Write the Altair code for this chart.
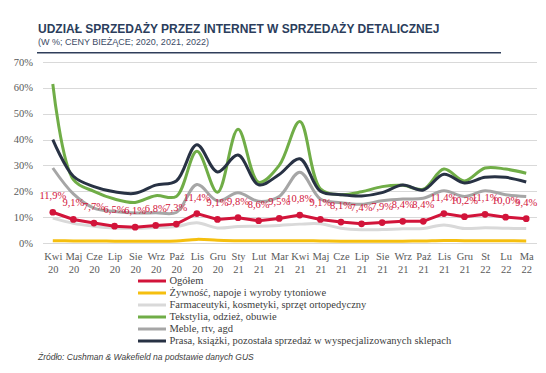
import altair as alt
import pandas as pd

months = ["Kwi 20", "Maj 20", "Cze 20", "Lip 20", "Sie 20", "Wrz 20", "Paź 20", "Lis 20",
          "Gru 20", "Sty 21", "Lut 21", "Mar 21", "Kwi 21", "Maj 21", "Cze 21", "Lip 21",
          "Sie 21", "Wrz 21", "Paź 21", "Lis 21", "Gru 21", "St 22", "Lu 22", "Ma 22"]

ogolem = [11.9, 9.1, 7.7, 6.5, 6.1, 6.8, 7.3, 11.4, 9.1, 9.8, 8.6, 9.5,
          10.8, 9.1, 8.1, 7.4, 7.9, 8.4, 8.4, 11.4, 10.2, 11.1, 10.0, 9.4]
zywnosc = [0.9, 0.8, 0.8, 0.7, 0.7, 0.7, 0.8, 1.4, 1.1, 0.9, 0.9, 0.9,
           0.9, 0.8, 0.7, 0.7, 0.7, 0.7, 0.8, 1.0, 0.9, 0.9, 0.9, 0.8]
farmaceutyki = [9.6, 7.6, 6.5, 5.8, 5.7, 6.0, 6.4, 7.8, 5.8, 6.4, 6.5, 6.8,
                7.3, 7.4, 5.7, 5.1, 5.2, 5.5, 5.6, 7.0, 5.6, 5.9, 5.7, 5.6]
tekstylia = [61.5, 24.5, 20.0, 17.0, 15.7, 18.3, 18.0, 35.5, 19.6, 44.0, 23.5, 30.0,
             47.0, 21.0, 18.7, 19.8, 21.8, 22.3, 20.8, 28.6, 24.0, 29.0, 28.6, 27.0]
meble = [29.0, 19.0, 13.5, 12.2, 11.6, 11.7, 11.8, 22.6, 16.3, 19.4, 16.1, 18.0,
         27.4, 17.0, 15.6, 15.0, 16.3, 17.0, 17.3, 20.2, 18.0, 20.2, 18.7, 18.0]
prasa = [40.0, 25.8, 21.8, 19.8, 19.2, 22.4, 24.0, 38.0, 27.5, 34.0, 22.5, 26.5,
         32.6, 20.0, 18.7, 18.2, 19.5, 22.4, 20.5, 26.6, 23.2, 25.4, 25.4, 23.6]

series_names = ["Ogółem",
                "Żywność, napoje i wyroby tytoniowe",
                "Farmaceutyki, kosmetyki, sprzęt ortopedyczny",
                "Tekstylia, odzież, obuwie",
                "Meble, rtv, agd",
                "Prasa, książki, pozostała sprzedaż w wyspecjalizowanych sklepach"]
series_values = [ogolem, zywnosc, farmaceutyki, tekstylia, meble, prasa]
colors = ["#d2143a", "#f5bf0f", "#d9d9d9", "#70ad47", "#a6a6a6", "#283244"]

title_text = "UDZIAŁ SPRZEDAŻY PRZEZ INTERNET W SPRZEDAŻY DETALICZNEJ"
subtitle_text = "(W %; CENY BIEŻĄCE; 2020, 2021, 2022)"
source_text = "Źródło: Cushman & Wakefield na podstawie danych GUS"

rows = []
for name, vals in zip(series_names, series_values):
    for m, v in zip(months, vals):
        rows.append({"month": m, "series": name, "value": v,
                     "label": f"{v:.1f}".replace(".", ",") + "%"})
df = pd.DataFrame(rows)

FONT = "Liberation Sans Narrow"
GRAY = "#595959"

x = alt.X("month:N", sort=months, title=None,
          axis=alt.Axis(labelExpr="split(datum.label, ' ')", labelAngle=0,
                        labelFont=FONT, labelFontSize=10.5, labelColor=GRAY,
                        labelLineHeight=13, labelPadding=8, domain=False, ticks=False,
                        grid=False, labelBaseline="top"))
y = alt.Y("value:Q", title=None, scale=alt.Scale(domain=[0, 70], nice=False),
          axis=alt.Axis(values=[0, 10, 20, 30, 40, 50, 60, 70],
                        labelExpr="datum.value + '%'", labelFont=FONT,
                        labelFontSize=10.5, labelColor=GRAY, labelPadding=10,
                        domain=False, ticks=False, gridColor="#d9d9d9", gridWidth=1))
color = alt.Color("series:N",
                  scale=alt.Scale(domain=series_names, range=colors),
                  legend=alt.Legend(orient="none", legendX=94, legendY=213, title=None,
                                    symbolType="stroke", symbolSize=784,
                                    symbolStrokeWidth=3, labelFont=FONT,
                                    labelFontSize=10.5, labelColor="#404040",
                                    labelOffset=2, rowPadding=0, clipHeight=12,
                                    padding=0, labelLimit=400, direction="vertical"))

base = alt.Chart(df)

layers = []
for name in [series_names[2], series_names[1], series_names[4], series_names[3], series_names[5]]:
    layers.append(
        base.transform_filter(alt.datum.series == name)
        .mark_line(interpolate="catmull-rom", strokeWidth=3)
        .encode(x=x, y=y, color=color)
    )

red = base.transform_filter(alt.datum.series == series_names[0])
layers.append(red.mark_line(strokeWidth=3).encode(x=x, y=y, color=color))
layers.append(red.mark_circle(size=45, opacity=1).encode(x=x, y=y, color=color))
layers.append(red.mark_text(dy=-16, font=FONT, fontSize=10.5, color="#d2143a")
              .encode(x=x, y=y, text="label:N"))

one = pd.DataFrame({"t": [0]})
layers.append(alt.Chart(pd.DataFrame({"t": [title_text]})).mark_text(
    align="left", baseline="alphabetic", font="Liberation Sans", fontSize=12,
    fontWeight="bold", color="#2b3d5c").encode(
    text="t:N", x=alt.value(-4.5), y=alt.value(-29)))
layers.append(alt.Chart(pd.DataFrame({"t": [subtitle_text]})).mark_text(
    align="left", baseline="alphabetic", font="Liberation Sans", fontSize=9,
    color="#3c4b66").encode(
    text="t:N", x=alt.value(-4.5), y=alt.value(-17)))
layers.append(alt.Chart(one).mark_rule(color="#2f3e5a", strokeWidth=1.5).encode(
    x=alt.value(-5.5), x2=alt.value(458.5), y=alt.value(-9.3)))
layers.append(alt.Chart(pd.DataFrame({"t": [source_text]})).mark_text(
    align="left", baseline="middle", font="Liberation Sans", fontSize=8.5,
    fontStyle="italic", color="#404040").encode(
    text="t:N", x=alt.value(-4.5), y=alt.value(295)))

chart = alt.layer(*layers).properties(
    width=494, height=181,
    autosize=alt.AutoSizeParams(type="none"),
    padding={"left": 34.5, "top": 54, "right": 1.5, "bottom": 122},
).configure_view(stroke=None)

chart.save("out.html", embed_options={"renderer": "svg", "actions": False})
